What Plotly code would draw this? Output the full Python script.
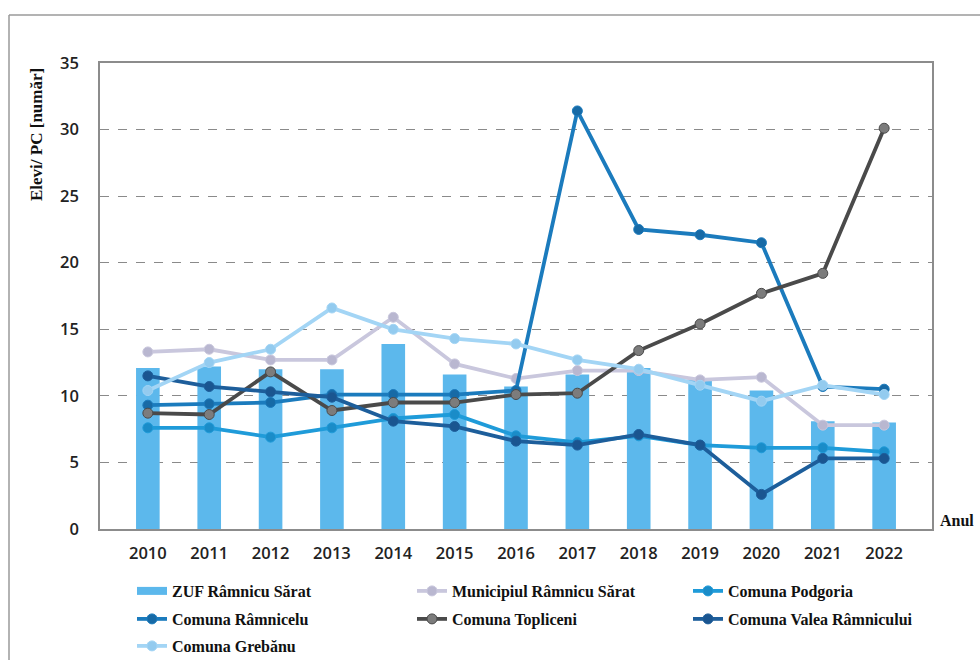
import plotly.graph_objects as go

years = [str(y) for y in range(2010, 2023)]

zuf = [12.1, 12.2, 12.0, 12.0, 13.9, 11.6, 10.7, 11.6, 12.1, 11.2, 10.4, 8.1, 8.0]
municipiul = [13.3, 13.5, 12.7, 12.7, 15.9, 12.4, 11.3, 11.9, 11.9, 11.2, 11.4, 7.8, 7.8]
podgoria = [7.6, 7.6, 6.9, 7.6, 8.3, 8.6, 7.0, 6.5, 7.0, 6.3, 6.1, 6.1, 5.8]
ramnicelu = [9.3, 9.4, 9.5, 10.1, 10.1, 10.1, 10.4, 31.4, 22.5, 22.1, 21.5, 10.7, 10.5]
topliceni = [8.7, 8.6, 11.8, 8.9, 9.5, 9.5, 10.1, 10.2, 13.4, 15.4, 17.7, 19.2, 30.1]
valea = [11.5, 10.7, 10.3, 9.9, 8.1, 7.7, 6.6, 6.3, 7.1, 6.3, 2.6, 5.3, 5.3]
grebanu = [10.4, 12.5, 13.5, 16.6, 15.0, 14.3, 13.9, 12.7, 12.0, 10.8, 9.6, 10.8, 10.1]

y_ticks = [0, 5, 10, 15, 20, 25, 30, 35]

names = ["ZUF Râmnicu Sărat", "Municipiul Râmnicu Sărat", "Comuna Podgoria",
         "Comuna Râmnicelu", "Comuna Topliceni", "Comuna Valea Râmnicului",
         "Comuna Grebănu"]

bar_color = "#5cb8ec"
line_series = [
    (municipiul, "#c9c7dd", "#b9b7d0"),
    (podgoria, "#1f9bd9", "#1a8cc8"),
    (ramnicelu, "#1b7bbd", "#176aa6"),
    (topliceni, "#4a4a4a", "#7c7c7c"),
    (valea, "#1d5e9b", "#1a5590"),
    (grebanu, "#a3d5f5", "#93cbef"),
]

# plot-area geometry (pixels)
L, R, T, B = 100, 932, 63, 529
W, H = 980, 660
pw, ph = R - L, B - T

# legend item text positions (pixels) in the 3-column grid
leg_pos = [(172, 591), (452, 591), (728, 591),
           (172, 619), (452, 619), (728, 619),
           (172, 646)]


def px(x):
    return (x - L) / pw


def py(y):
    return (B - y) / ph


def legname(i):
    return "legend" if i == 0 else f"legend{i + 1}"


fig = go.Figure()
fig.add_trace(go.Bar(x=years, y=zuf, name=names[0], marker=dict(color=bar_color, line=dict(width=0)),
                     showlegend=False))
# legend stand-in for the bar series (wide rectangle symbol)
fig.add_trace(go.Scatter(x=[None], y=[None], name=names[0], mode="lines",
                         line=dict(color=bar_color, width=8), legend=legname(0)))
for i, (vals, lc, mc) in enumerate(line_series):
    fig.add_trace(go.Scatter(
        x=years, y=vals, name=names[i + 1], mode="lines+markers",
        line=dict(color=lc, width=3.8),
        marker=dict(color=mc, size=10, line=dict(color=lc, width=1)),
        legend=legname(i + 1)))

tick_font = dict(family="Open Sans", size=16.5, color="#222222", weight=600)
leg_font = dict(family="Liberation Serif", size=16, color="#111111", weight="bold")

legends = {}
for i, (tx, ty) in enumerate(leg_pos):
    legends[legname(i)] = dict(orientation="h", xref="container", yref="container",
                               x=(tx - 40) / W, y=1 - ty / H, xanchor="left", yanchor="middle",
                               font=leg_font, bgcolor="rgba(0,0,0,0)", itemclick=False)

fig.update_layout(
    width=W, height=H,
    margin=dict(l=L, r=W - R, t=T, b=H - B, autoexpand=False),
    paper_bgcolor="white", plot_bgcolor="white",
    bargap=0.615,
    showlegend=True,
    xaxis=dict(type="category", showline=True, linecolor="#8c8c8c", linewidth=1.5, mirror=True,
               showgrid=False, tickfont=tick_font, ticks="", ticklabelstandoff=8),
    yaxis=dict(range=[0, 35], tickvals=y_ticks, showline=True, linecolor="#8c8c8c", linewidth=1.5,
               mirror=True, showgrid=True, gridcolor="#8a8a8a", griddash="dash", gridwidth=1,
               zeroline=False, tickfont=tick_font, ticks="", ticklabelstandoff=16),
    annotations=[
        dict(text="Anul", xref="paper", yref="paper", x=px(938), y=py(520), xanchor="left",
             yanchor="middle", showarrow=False,
             font=dict(family="Liberation Serif", size=16, color="#111111", weight="bold")),
        dict(text="Elevi/ PC [număr]", xref="paper", yref="paper", x=px(36), y=py(135),
             xanchor="center", yanchor="middle", textangle=-90, showarrow=False,
             font=dict(family="Liberation Serif", size=17, color="#111111", weight="bold")),
    ],
    shapes=[
        dict(type="line", xref="paper", yref="paper", x0=px(9), x1=px(980),
             y0=py(15), y1=py(15), line=dict(color="#9a9a9a", width=1.5)),
        dict(type="line", xref="paper", yref="paper", x0=px(9), x1=px(9),
             y0=py(15), y1=py(660), line=dict(color="#9a9a9a", width=1.5)),
    ],
    **legends,
)

fig.write_html("out.html", config={"displayModeBar": False},
               post_script="document.body.style.margin='0';document.body.style.overflow='hidden';")
